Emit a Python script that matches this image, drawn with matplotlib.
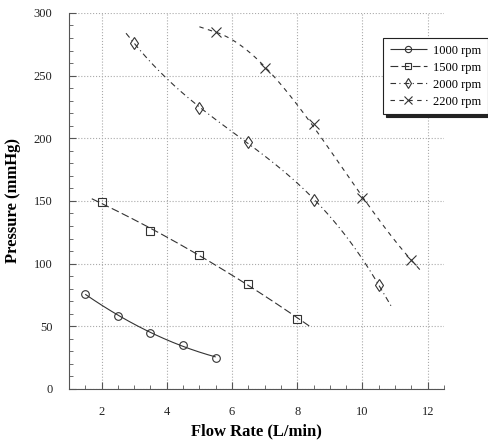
import numpy as np
import matplotlib.pyplot as plt
from matplotlib.ticker import MultipleLocator

# Pump pressure vs flow rate at four speeds
labels = ['1000 rpm', '1500 rpm', '2000 rpm', '2200 rpm']

flow_1000 = [1.5, 2.5, 3.5, 4.5, 5.5]
pres_1000 = [76, 58, 45, 35, 25]

flow_1500 = [2.0, 3.5, 5.0, 6.5, 8.0]
pres_1500 = [149, 126, 107, 84, 56]

flow_2000 = [3.0, 5.0, 6.5, 8.5, 10.5]
pres_2000 = [276, 224, 197, 151, 83]

flow_2200 = [5.5, 7.0, 8.5, 10.0, 11.5]
pres_2200 = [285, 256, 211, 152, 103]

# trendline spans (x range of each curve) and polynomial order
spans = [(1.5, 5.5), (1.7, 8.45), (2.75, 10.9), (5.0, 11.8)]
orders = [2, 2, 3, 3]

plt.rcParams['font.family'] = ['Liberation Serif', 'DejaVu Serif']

fig = plt.figure(figsize=(4.89, 4.45), dpi=100)
ax = fig.add_axes([0.141, 0.126, 0.767, 0.845])

series = [
    (flow_1000, pres_1000, 'o', (0, ()), 5.5),
    (flow_1500, pres_1500, 's', (0, (7, 3)), 5.5),
    (flow_2000, pres_2000, 'd', (0, (5, 3, 1, 3)), 6),
    (flow_2200, pres_2200, 'x', (0, (4, 4)), 6.5),
]


def trend(fx, py, order, x0, x1):
    # fitted curve inside the data, straight tangent beyond it
    coef = np.polyfit(fx, py, order)
    der = np.polyder(coef)
    xs = np.linspace(x0, x1, 150)
    lo, hi = min(fx), max(fx)
    ys = np.polyval(coef, np.clip(xs, lo, hi))
    ys = np.where(xs < lo, ys + np.polyval(der, lo) * (xs - lo), ys)
    ys = np.where(xs > hi, ys + np.polyval(der, hi) * (xs - hi), ys)
    return xs, ys


handles = []
for (fx, py, mk, ls, ms), lab, (x0, x1), k in zip(series, labels, spans, orders):
    xs, ys = trend(fx, py, k, x0, x1)
    ax.plot(xs, ys, color='#333333', lw=0.8, linestyle=ls)
    ax.plot(fx, py, linestyle='none', marker=mk, ms=ms, mfc='none',
            mec='#333333', mew=0.8)
    h, = ax.plot([], [], color='#333333', lw=0.8, linestyle=ls, marker=mk,
                 ms=ms - 1, mfc='none', mec='#333333', mew=0.8)
    handles.append(h)

ax.set_xlim(1, 12.5)
ax.set_ylim(0, 300)
ax.xaxis.set_major_locator(MultipleLocator(2))
ax.xaxis.set_minor_locator(MultipleLocator(0.5))
ax.yaxis.set_major_locator(MultipleLocator(50))
ax.yaxis.set_minor_locator(MultipleLocator(10))

ax.grid(True, which='major', color='#aaaaaa', linestyle=':', lw=0.8)
for s in ['top', 'right']:
    ax.spines[s].set_visible(False)
for s in ['left', 'bottom']:
    ax.spines[s].set_color('#555555')

ax.tick_params(which='major', direction='in', length=5, width=0.8,
               colors='#555555', labelcolor='#222222', labelsize=9, pad=12)
ax.tick_params(which='minor', direction='in', length=3, width=0.6,
               colors='#555555')

ax.set_xlabel('Flow Rate (L/min)', fontsize=12, fontweight='bold', labelpad=4)
ax.set_ylabel('Pressure (mmHg)', fontsize=12, fontweight='bold', labelpad=9)

leg = fig.legend(handles, labels, loc='upper left',
                 bbox_to_anchor=(0.771, 0.928), fontsize=9, frameon=True,
                 fancybox=False, shadow={'color': '#222222', 'alpha': 1},
                 handlelength=3.0, borderpad=0.5, labelspacing=0.4,
                 handletextpad=0.5)
leg.get_frame().set_edgecolor('#222222')
leg.get_frame().set_linewidth(0.8)

fig.savefig('out.png', dpi=100)
